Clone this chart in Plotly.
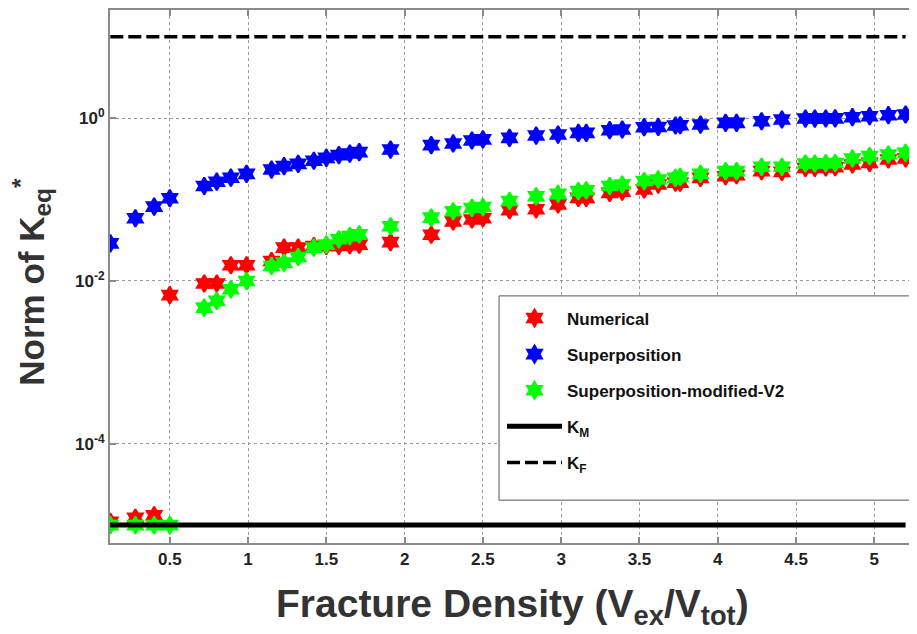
import plotly.graph_objects as go

# Fracture density (shared x for all series)
x_density = [0.12, 0.28, 0.40, 0.50, 0.72, 0.80, 0.89, 0.99, 1.15, 1.23, 1.32, 1.42,
             1.50, 1.58, 1.65, 1.71, 1.91, 2.17, 2.31, 2.43, 2.50, 2.67, 2.84, 2.98,
             3.11, 3.16, 3.31, 3.39, 3.53, 3.62, 3.73, 3.76, 3.89, 4.05, 4.12, 4.28,
             4.41, 4.56, 4.62, 4.69, 4.75, 4.86, 4.97, 5.09, 5.20]

numerical = [1.1e-5, 1.23e-5, 1.32e-5, 0.0067, 0.0093, 0.0093, 0.0156, 0.0156, 0.0176,
             0.0257, 0.0257, 0.0268, 0.027, 0.027, 0.0275, 0.028, 0.030, 0.037, 0.054,
             0.057, 0.059, 0.074, 0.076, 0.087, 0.105, 0.105, 0.121, 0.125, 0.133, 0.153,
             0.161, 0.161, 0.185, 0.194, 0.20, 0.224, 0.219, 0.245, 0.245, 0.248, 0.25,
             0.27, 0.283, 0.311, 0.32]

superposition = [0.029, 0.059, 0.082, 0.104, 0.147, 0.166, 0.186, 0.207, 0.234, 0.258,
                 0.275, 0.30, 0.326, 0.352, 0.368, 0.383, 0.412, 0.467, 0.49, 0.532, 0.55,
                 0.574, 0.612, 0.63, 0.66, 0.66, 0.713, 0.726, 0.776, 0.782, 0.813, 0.82,
                 0.836, 0.877, 0.877, 0.918, 0.964, 0.99, 0.99, 0.993, 0.995, 1.03, 1.06,
                 1.09, 1.11]

superposition_v2 = [1.0e-5, 1.0e-5, 1.0e-5, 1.0e-5, 0.0047, 0.0057, 0.0079, 0.010, 0.0153,
                    0.0168, 0.0197, 0.0257, 0.028, 0.0325, 0.0356, 0.0374, 0.047, 0.060,
                    0.072, 0.079, 0.081, 0.096, 0.110, 0.118, 0.127, 0.130, 0.147, 0.153,
                    0.169, 0.177, 0.185, 0.19, 0.207, 0.224, 0.224, 0.253, 0.253, 0.278,
                    0.278, 0.28, 0.282, 0.32, 0.342, 0.358, 0.375]

k_line_x = [0.12, 5.20]
k_m = [1e-5, 1e-5]
k_f = [10.0, 10.0]

x_ticks = [0.5, 1, 1.5, 2, 2.5, 3, 3.5, 4, 4.5, 5]
x_ticktext = ["0.5", "1", "1.5", "2", "2.5", "3", "3.5", "4", "4.5", "5"]
y_ticks = [1e-4, 1e-2, 1]
y_ticktext = ["10<sup>-4</sup>", "10<sup>-2</sup>", "10<sup>0</sup>"]

FONT = "Arial, Liberation Sans, sans-serif"

fig = go.Figure()
marker_common = dict(symbol="hexagram", size=13)
for name, ys, col in [("Numerical", numerical, "#ff0000"),
                      ("Superposition", superposition, "#0000ff"),
                      ("Superposition-modified-V2", superposition_v2, "#00ff00")]:
    fig.add_trace(go.Scatter(x=x_density, y=ys, mode="markers", name=name,
                             legendgroup=name,
                             marker=dict(color=col, line=dict(color=col, width=2),
                                         **marker_common)))

fig.add_trace(go.Scatter(x=k_line_x, y=k_m, mode="lines", name="K<sub>M</sub>",
                         legendgroup="km", line=dict(color="black", width=5)))
fig.add_trace(go.Scatter(x=k_line_x, y=k_f, mode="lines", name="K<sub>F</sub>",
                         legendgroup="kf", line=dict(color="black", width=3.5, dash="13px,5px")))

axis_common = dict(showline=True, linecolor="#8a8a8a", linewidth=2, mirror="ticks",
                   ticks="inside", ticklen=6, tickcolor="#8a8a8a", tickwidth=1.5,
                   showgrid=True, gridcolor="#9a9a9a", gridwidth=1, griddash="dot",
                   zeroline=False,
                   tickfont=dict(family=FONT, size=17, color="#222", weight="bold"))

fig.update_xaxes(range=[0.118, 5.26], tickvals=x_ticks, ticktext=x_ticktext, **axis_common)
fig.update_yaxes(type="log", range=[-5.22, 1.33], tickvals=y_ticks, ticktext=y_ticktext,
                 **axis_common)

# page body has an 8px margin: figure occupies page pixels 8..917 x 8..634
fig.update_layout(
    width=909, height=626,
    margin=dict(l=102, r=0, t=1, b=91),
    paper_bgcolor="white", plot_bgcolor="white",
    showlegend=True,
    legend=dict(x=0.487, y=0.455, xanchor="left", yanchor="top",
                bgcolor="rgba(0,0,0,0)", borderwidth=0,
                font=dict(family=FONT, size=17, color="#111", weight="bold"),
                itemwidth=55, tracegroupgap=11),
    shapes=[
        dict(type="rect", xref="paper", yref="paper", x0=0.4833, x1=1.01, y0=0.0804, y1=0.4636,
             fillcolor="white", line=dict(color="#555", width=1), layer="above"),
    ],
    annotations=[
        dict(text="Fracture Density (V<sub>ex</sub>/V<sub>tot</sub>)", xref="paper", yref="paper",
             x=0.5, y=-0.07, xanchor="center", yanchor="top", showarrow=False,
             font=dict(family=FONT, size=39, color="#333", weight="bold")),
        dict(text="Norm of K<sub>eq</sub><sup>*</sup>", xref="paper", yref="paper",
             x=-0.097, y=0.49, xanchor="center", yanchor="middle", textangle=-90,
             showarrow=False,
             font=dict(family=FONT, size=35, color="#333", weight="bold")),
    ],
)

fig.write_html("out.html")
